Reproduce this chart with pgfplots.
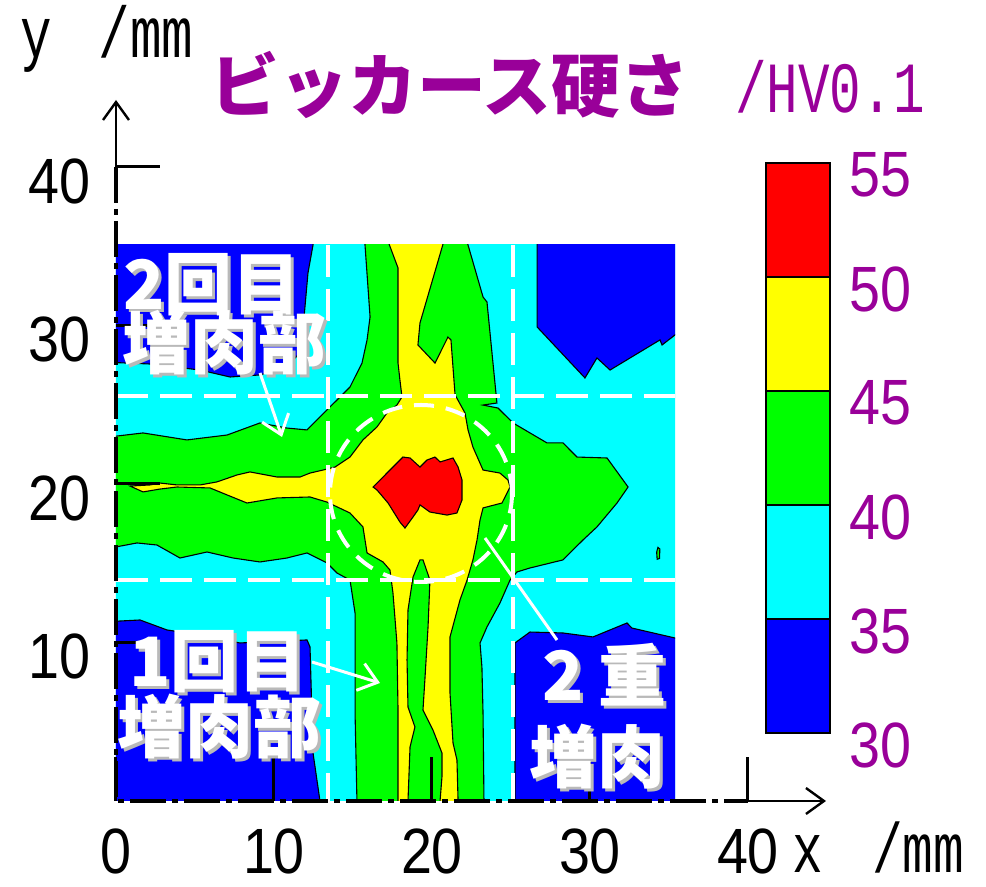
\documentclass[border=0pt]{standalone}
\usepackage{fontspec}
\usepackage{pgfplots}
\pgfplotsset{compat=1.18}
\usetikzlibrary{arrows.meta}
\setmainfont{Liberation Sans}
\newfontfamily\numfont[FakeStretch=0.87]{Liberation Sans}
\newfontfamily\narrowmono[FakeStretch=0.73]{Liberation Mono}
\newfontfamily\jpfont{Noto Sans CJK JP}
\definecolor{hvblue}{RGB}{0,0,255}
\definecolor{hvcyan}{RGB}{0,255,255}
\definecolor{hvgreen}{RGB}{0,255,0}
\definecolor{hvyellow}{RGB}{255,255,0}
\definecolor{hvred}{RGB}{255,0,0}
\definecolor{hvpurple}{RGB}{153,0,153}
\definecolor{shadowgray}{RGB}{185,185,185}
\tikzset{contour/.style={draw=black, line width=0.55pt},
  jplabel/.style={font=\jpfont\bfseries\fontsize{34}{34}\selectfont, inner sep=0pt}}
% white label with a light grey drop shadow
\newcommand\shadowlabel[3]{%
  \node[jplabel, text=shadowgray] at (#1+3,#2+3) {#3};
  \node[jplabel, text=white] at (#1,#2) {#3};}

\begin{document}
\begin{tikzpicture}
\useasboundingbox (-58pt,-43pt) rectangle (435pt,400.5pt);

% ---- hardness map (contour bands, HV0.1) ----
\begin{axis}[at={(0pt,0pt)}, anchor=south west, x=7.9pt, y=7.925pt,
  xmin=0, xmax=35.38, ymin=0, ymax=35.08, hide axis]
% 35-40 background
\addplot[fill=hvcyan, draw=none] coordinates {(-1,-1) (37,-1) (37,37) (-1,37)} --cycle;
% 30-35 corners
\addplot[fill=hvblue, contour] coordinates {(-1,27.70) (2.15,27.57) (5.32,27.19) (7.22,26.75) (9.11,26.88) (10.70,27.32) (11.52,28.14) (11.77,29.09) (11.96,31.17) (12.15,33.31) (12.47,35.08) (12.55,36) (-1,36)} --cycle;
\addplot[fill=hvblue, contour] coordinates {(26.65,36) (26.65,29.91) (29.68,26.69) (30.44,27.95) (31.27,27.19) (34.43,29.09) (34.56,28.77) (36,29.88) (36,36)} --cycle;
\addplot[fill=hvblue, contour] coordinates {(-1,11.29) (1.52,11.42) (3.23,10.79) (4.49,10.60) (7.85,9.97) (12.09,10.16) (12.28,9.72) (12.47,3.03) (12.91,0) (13.06,-1) (-1,-1)} --cycle;
\addplot[fill=hvblue, contour] coordinates {(25.25,-1) (25.25,9.97) (26.20,10.66) (28.29,10.60) (30.19,10.35) (32.34,11.23) (32.66,10.91) (36,10.14) (36,-1)} --cycle;
% 40-45
\addplot[fill=hvgreen, contour] coordinates {(-1,22.90) (1.71,23.22) (4.49,22.78) (7.03,23.09) (9.11,23.85) (10.82,23.53) (12.09,23.41) (13.35,24.67) (14.18,25.49) (14.81,26.12) (15.57,27.63) (15.89,29.09) (16.08,30.54) (15.76,35.08) (15.70,36) (22.01,36) (22.28,35.08) (23.23,31.80) (23.48,31.48) (23.86,27.63) (24.11,25.11) (23.23,24.98) (24.18,24.79) (25.13,23.85) (27.28,22.59) (28.29,22.59) (29.18,21.70) (31.08,21.64) (32.41,19.81) (31.71,18.80) (30.44,17.29) (29.56,16.47) (28.29,15.21) (26.20,14.70) (25.38,14.45) (24.94,13.94) (24.30,12.49) (23.48,10.98) (23.04,9.97) (23.16,8.45) (23.23,5.55) (23.29,0) (23.30,-1) (15.26,-1) (15.25,0) (15.13,5.55) (15.13,11.86) (14.81,13.94) (13.99,14.38) (13.35,15.02) (12.09,15.65) (10.82,15.33) (9.11,15.08) (7.41,15.33) (5.76,15.71) (4.05,15.33) (2.59,16.15) (1.33,16.28) (-1,15.84)} --cycle;
\addplot[fill=hvgreen, contour] coordinates {(34.25,15.25) (34.40,15.30) (34.42,15.90) (34.30,16.00) (34.22,15.70)} --cycle;
% 45-50
\addplot[fill=hvyellow, contour] coordinates {(16.96,36) (17.85,33.63) (17.85,30.54) (17.85,27.63) (17.97,26.56) (18.10,25.49) (17.78,24.98) (17.15,24.48) (16.52,23.60) (15.63,22.78) (14.81,21.70) (13.86,21.07) (13.10,20.88) (12.28,20.69) (11.65,20.44) (10.19,20.44) (8.48,20.76) (7.66,20.57) (6.39,20.13) (5.32,19.94) (3.86,19.94) (2.78,20.06) (2.15,19.94) (0.89,19.87) (1.71,19.50) (2.78,19.68) (3.86,19.81) (5.95,19.75) (7.03,19.31) (8.29,18.80) (10.19,19.12) (12.28,19.18) (13.35,18.86) (14.81,18.17) (15.63,17.29) (15.89,15.65) (16.90,15.08) (17.34,14.57) (17.53,13.12) (17.78,9.97) (17.85,5.74) (17.85,-1) (18.48,-1) (18.48,0) (18.61,3.41) (18.92,4.67) (18.48,5.93) (18.42,8.90) (18.48,12.05) (18.80,14.13) (19.24,15.21) (19.43,15.21) (19.87,13.94) (19.75,10.98) (19.56,7.82) (19.43,5.74) (20.06,4.48) (20.63,3.03) (20.63,1.51) (20.51,0) (20.50,-1) (21.65,-1) (21.65,0) (21.58,2.59) (21.33,3.66) (21.14,6.81) (21.14,10.35) (21.77,12.68) (22.22,13.94) (22.59,15.21) (22.85,16.47) (23.04,17.73) (23.23,18.49) (24.43,18.80) (24.94,19.81) (24.81,20.25) (24.30,20.69) (23.23,20.88) (22.59,22.33) (22.28,23.41) (22.09,24.48) (21.46,25.62) (21.20,29.09) (21.01,29.27) (20.19,27.63) (19.11,28.77) (19.24,30.16) (20.95,36)} --cycle;
% 50-55
\addplot[fill=hvred, contour] coordinates {(16.27,19.81) (17.15,20.69) (18.16,21.70) (18.61,21.64) (19.24,21.07) (19.68,21.51) (20.19,21.70) (20.51,21.39) (21.33,21.64) (21.65,21.07) (21.90,20.25) (21.90,18.99) (21.58,18.17) (20.95,18.04) (19.87,18.23) (19.24,18.68) (19.11,18.36) (18.80,17.92) (18.29,17.22) (17.97,17.60) (17.22,18.80) (16.52,19.62)} --cycle;
\end{axis}

% ---- x / y frame with ticks ----
\begin{axis}[at={(0pt,0pt)}, anchor=south west, x=7.9pt, y=7.925pt,
  xmin=0, xmax=45, ymin=0, ymax=44.5,
  axis lines=left, axis line style={draw=none},
  xtick={0,10,20,30,40}, ytick={10,20,30,40},
  tick align=inside, major tick length=22pt,
  tick style={black, line width=1.5pt},
  /pgf/number format/assume math mode=true,
  ticklabel style={font=\numfont\fontsize{32}{32}\selectfont, text=black},
  xticklabel style={anchor=north, inner sep=0pt, yshift=-13.5pt},
  yticklabel style={anchor=east, xshift=-9pt, yshift=-7pt}]
\end{axis}

% ---- colour scale ----
\begin{axis}[at={(325pt,34pt)}, anchor=south west, scale only axis,
  width=32pt, height=285pt,
  xmin=0, xmax=1, ymin=30, ymax=55, xtick=\empty, ytick={30,35,...,55},
  ytick pos=right, yticklabel pos=right, major tick length=0pt,
  axis line style={line width=1pt}, axis on top,
  /pgf/number format/assume math mode=true,
  yticklabel style={font=\numfont\fontsize{32}{32}\selectfont, text=hvpurple, anchor=west, xshift=6pt, yshift=-6pt}]
\addplot[fill=hvblue, draw=black, line width=1pt] coordinates {(0,30) (1,30) (1,35) (0,35)} --cycle;
\addplot[fill=hvcyan, draw=black, line width=1pt] coordinates {(0,35) (1,35) (1,40) (0,40)} --cycle;
\addplot[fill=hvgreen, draw=black, line width=1pt] coordinates {(0,40) (1,40) (1,45) (0,45)} --cycle;
\addplot[fill=hvyellow, draw=black, line width=1pt] coordinates {(0,45) (1,45) (1,50) (0,50)} --cycle;
\addplot[fill=hvred, draw=black, line width=1pt] coordinates {(0,50) (1,50) (1,55) (0,55)} --cycle;
\end{axis}

% ---- guide lines, axes arrows and labels ----
\begin{scope}[x=0.5pt, y=-0.5pt, shift={(-116,-801)}]
  % boundaries of the build-up passes
  \begin{scope}[white, line width=2pt, dash pattern=on 16pt off 6pt]
    \draw (328,245) -- (328,801);
    \draw (513,245) -- (513,801);
    \draw (116,396) -- (675,396);
    \draw (116,580) -- (675,580);
  \end{scope}
  \draw[white, line width=2pt, dash pattern=on 10pt off 6pt] (421,493.5) ellipse [x radius=91, y radius=88.5];
  % axes
  \draw[line width=1.6pt, dash pattern=on 18pt off 3pt on 3pt off 3pt] (116,167) -- (116,801) -- (748,801);
  \draw[line width=1.2pt, -{Straight Barb[length=9pt, width=13pt, line width=1.2pt]}] (116,167) -- (116,100);
  \draw[line width=1.2pt, -{Straight Barb[length=9pt, width=13pt, line width=1.2pt]}] (748,801) -- (826,801);
  \node[font=\narrowmono\fontsize{36}{36}\selectfont, anchor=base] at (36,58) {y};
  \node[font=\narrowmono\fontsize{36}{36}\selectfont, anchor=base] at (146,58) {/mm};
  \node[font=\narrowmono\fontsize{35}{35}\selectfont, anchor=base, inner sep=0pt] at (808,873) {x};
  \node[font=\narrowmono\fontsize{35}{35}\selectfont, anchor=base, inner sep=0pt] at (918,873) {/mm};
  % title
  \node[font=\jpfont\bfseries\fontsize{34.5}{34.5}\selectfont, text=hvpurple] at (450,85) {ビッカース硬さ};
  \node[font=\narrowmono\fontsize{36}{36}\selectfont, text=hvpurple] at (830,87) {/HV0.1};
  % annotations
  \draw[white, line width=1.5pt, -{Straight Barb[length=9pt, width=14pt, line width=1.5pt]}] (260,373) -- (282,437);
  \draw[white, line width=1.5pt, -{Straight Barb[length=9pt, width=14pt, line width=1.5pt]}] (312,662) -- (380,683);
  \draw[white, line width=1.5pt] (485,538) -- (557,640);
  \shadowlabel{212}{285}{2回目}
  \shadowlabel{225}{343}{増肉部}
  \shadowlabel{218}{662}{1回目}
  \shadowlabel{220}{727}{増肉部}
  \shadowlabel{563}{675}{2}
  \shadowlabel{632}{675}{重}
  \shadowlabel{597}{757}{増肉}
\end{scope}
\end{tikzpicture}
\end{document}
